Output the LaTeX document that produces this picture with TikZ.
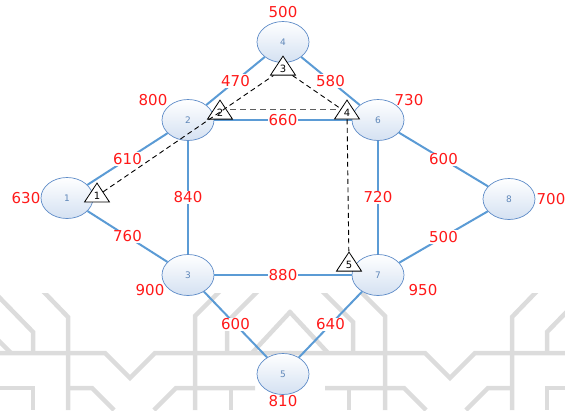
\documentclass[tikz,border=0pt]{standalone}
\usepackage{fontspec}
\setsansfont{DejaVu Sans}
\usepackage{tikz}
\usetikzlibrary{positioning,shapes.geometric,backgrounds}

\definecolor{roadblue}{RGB}{91,155,213}
\definecolor{cityline}{RGB}{95,140,200}
\definecolor{citytext}{RGB}{95,135,185}
\definecolor{cityfill}{RGB}{212,225,242}
\definecolor{wtred}{RGB}{255,25,25}
\definecolor{hopgray}{RGB}{95,95,95}
\definecolor{lattice}{RGB}{220,220,220}

\begin{document}
\begin{tikzpicture}[x=1pt, y=-1pt, on grid,
		city/.style={ellipse, draw=cityline, line width=0.7pt, top color=white, bottom color=cityfill,
			minimum width=52pt, minimum height=41pt, inner sep=0pt, text=citytext,
			font=\sffamily\fontsize{9}{9}\selectfont},
		road/.style={draw=roadblue, line width=2pt},
		wt/.style={text=wtred, inner sep=1pt, font=\sffamily\fontsize{15}{15}\selectfont},
		elab/.style={wt, fill=white},
		tri/.style={isosceles triangle, isosceles triangle stretches, shape border rotate=90,
			minimum width=25pt, minimum height=19pt, inner sep=0pt, draw, fill=white,
			line width=0.8pt, font=\sffamily\fontsize{10}{10}\selectfont},
		hop/.style={dash pattern=on 5pt off 3.5pt, line width=0.9pt}]
		\useasboundingbox (0,0) rectangle (565,410);
		% Top
		\node[city] (n4) at (283,42) {4} ;
		\node[city, below left=78pt and 95pt of n4] (n2) {2} ;
		\node[city, below right=78pt and 95pt of n4] (n6) {6} ;
		% Sides
		\node[city, below left=78pt and 121pt of n2] (n1) {1} ;
		\node[city, below right=79pt and 131pt of n6] (n8) {8} ;
		% Bottom
		\node[city, below=155pt of n2] (n3) {3} ;
		\node[city, below=155pt of n6] (n7) {7} ;
		\node[city, below=332pt of n4] (n5) {5} ;
		% Node weights
		\node[wt, above=30pt of n4] (w4) {500} ;
		\node[wt, above left=20pt and 35pt of n2] (w2) {800} ;
		\node[wt, above right=20pt and 31pt of n6] (w6) {730} ;
		\node[wt, left=41pt of n1] (w1) {630} ;
		\node[wt, right=42pt of n8] (w8) {700} ;
		\node[wt, below left=15pt and 38pt of n3] (w3) {900} ;
		\node[wt, below right=15pt and 45pt of n7] (w7) {950} ;
		\node[wt, below=27pt of n5] (w5) {810} ;
		% Roads
		\draw[road] (n1) -- node[elab] (e12) {610} (n2) ;
		\draw[road] (n2) -- node[elab] (e24) {470} (n4) ;
		\draw[road] (n4) -- node[elab] (e46) {580} (n6) ;
		\draw[road] (n2) -- node[elab] (e26) {660} (n6) ;
		\draw[road] (n2) -- node[elab] (e23) {840} (n3) ;
		\draw[road] (n6) -- node[elab] (e67) {720} (n7) ;
		\draw[road] (n6) -- node[elab] (e68) {600} (n8) ;
		\draw[road] (n1) -- node[elab] (e13) {760} (n3) ;
		\draw[road] (n3) -- node[elab] (e37) {880} (n7) ;
		\draw[road] (n7) -- node[elab] (e78) {500} (n8) ;
		\draw[road] (n3) -- node[elab] (e35) {600} (n5) ;
		\draw[road] (n7) -- node[elab] (e75) {640} (n5) ;
		% Route markers
		\node[tri, above right=2pt and 30pt of n1] (t1) {1} ;
		\node[tri, above right=7pt and 32pt of n2] (t2) {2} ;
		\node[tri, below=27pt of n4] (t3) {3} ;
		\node[tri, above left=7pt and 31pt of n6] (t4) {4} ;
		\node[tri, above left=10pt and 29pt of n7] (t5) {5} ;
		\draw[hop] (t1) -- (t3) ;
		\draw[hop] (t3) -- (t4) ;
		\draw[hop] (t4) -- (t5) ;
		\begin{scope}[on background layer]
			\draw[hop, draw=hopgray, line width=1.5pt, dash pattern=on 6pt off 4pt]
				([yshift=3.5pt]t2.center) -- ([yshift=3.5pt]t4.center) ;
			% lattice in the lower part
			\clip (0,293) rectangle (565,410) ;
			\foreach \s/\o in {1/0,-1/-580} {
				\begin{scope}[xscale=\s, xshift=\o pt, draw=lattice, line width=4.5pt]
					\draw (-5,293) -- (33,332) -- (33,353) ;
					\draw (-5,337) -- (11,353) ;
					\draw (40,288) -- (68,317) -- (68,410) ;
					\draw (-5,353) -- (105,353) -- (130,378) -- (155,353) -- (291,353) ;
					\draw (223,288) -- (195,316) -- (195,410) ;
					\draw (258,291) -- (227,322) -- (227,353) ;
					\draw (252,353) -- (291,311) ;
					\draw (-5,388) -- (33,388) -- (33,410) ;
					\draw (68,388) -- (92,388) -- (114,410) ;
					\draw (154,410) -- (176,388) -- (255,388) ;
					\draw (231,388) -- (231,410) ;
				\end{scope}
			}
		\end{scope}
	\end{tikzpicture}
\end{document}
